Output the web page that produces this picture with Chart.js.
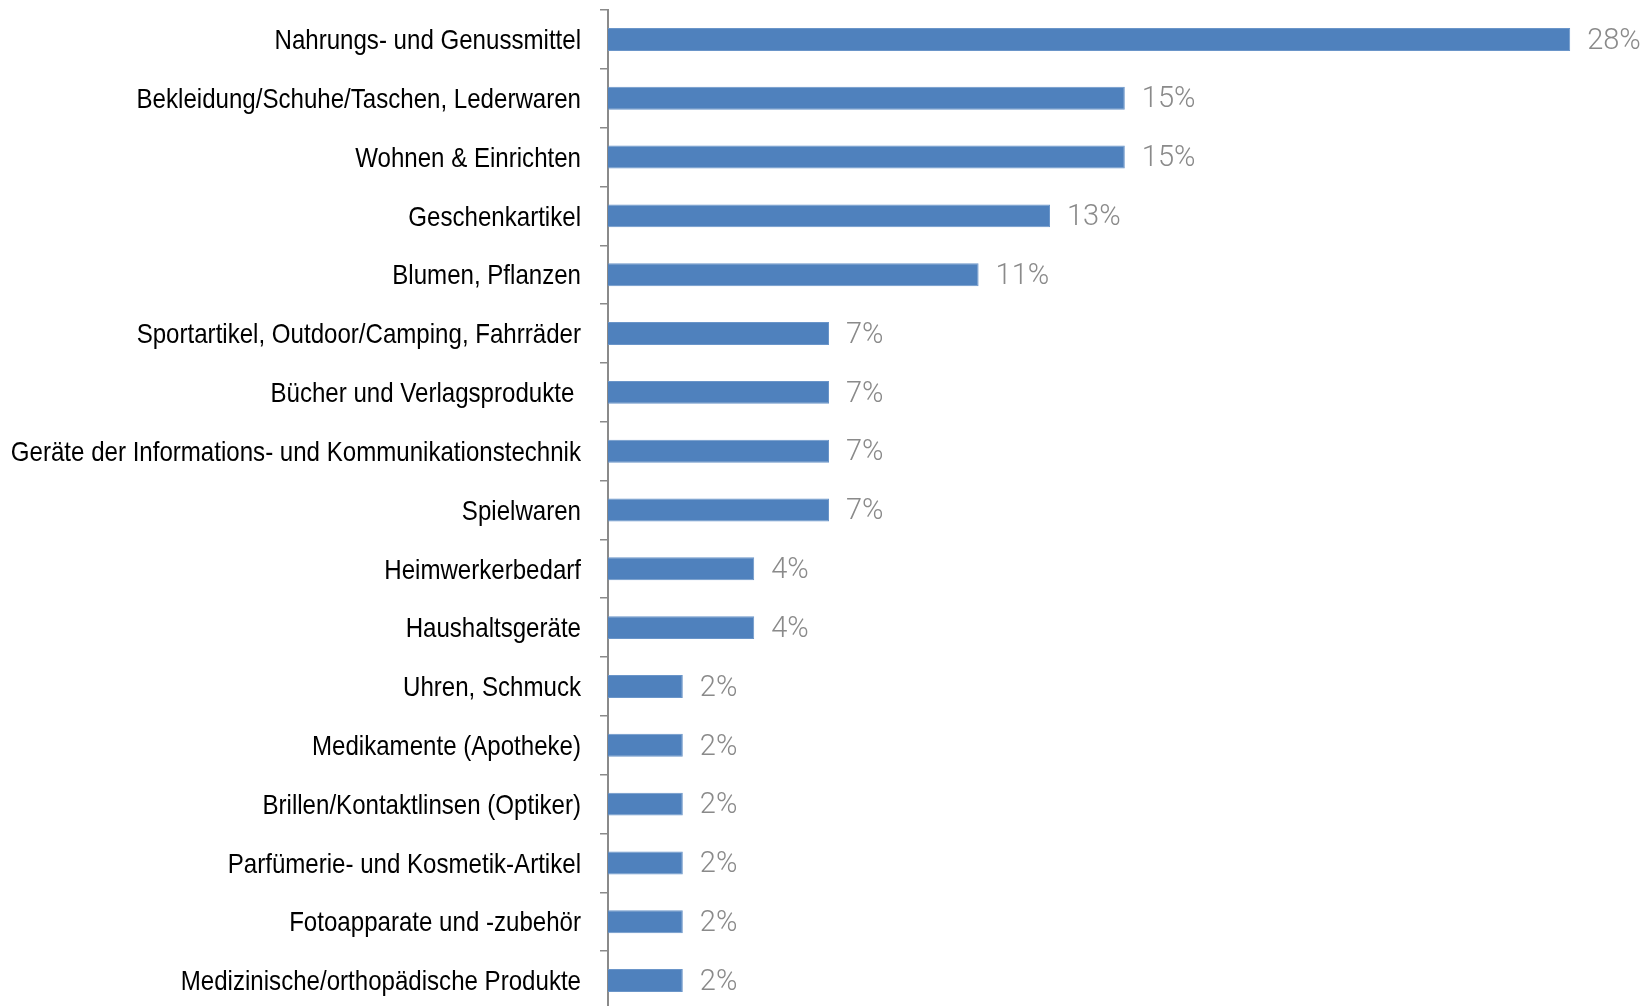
<!DOCTYPE html>
<html>
<head>
<meta charset="utf-8">
<script src="https://cdn.jsdelivr.net/npm/chart.js@4"></script>
<style>
  html, body { margin: 0; padding: 0; background: #fff; overflow: hidden; }
</style>
</head>
<body>
<canvas id="myChart" width="1645" height="1010"></canvas>
<script>
const categories = [
    "Nahrungs- und Genussmittel",
    "Bekleidung/Schuhe/Taschen, Lederwaren",
    "Wohnen & Einrichten",
    "Geschenkartikel",
    "Blumen, Pflanzen",
    "Sportartikel, Outdoor/Camping, Fahrräder",
    "Bücher und Verlagsprodukte ",
    "Geräte der Informations- und Kommunikationstechnik",
    "Spielwaren",
    "Heimwerkerbedarf",
    "Haushaltsgeräte",
    "Uhren, Schmuck",
    "Medikamente (Apotheke)",
    "Brillen/Kontaktlinsen (Optiker)",
    "Parfümerie- und Kosmetik-Artikel",
    "Fotoapparate und -zubehör",
    "Medizinische/orthopädische Produkte"
]
const shares = [28.3, 15.2, 15.2, 13.0, 10.9, 6.5, 6.5, 6.5, 6.5, 4.3, 4.3, 2.2, 2.2, 2.2, 2.2, 2.2, 2.2]
const shareLabels = ["28%", "15%", "15%", "13%", "11%", "7%", "7%", "7%", "7%", "4%", "4%", "2%", "2%", "2%", "2%", "2%", "2%"]

// value labels right of each bar + narrow category labels
const labelPlugin = {
    id: 'labelPlugin',
    afterDatasetsDraw(chart) {
        const ctx = chart.ctx
        const meta = chart.getDatasetMeta(0)
        const yScale = chart.scales.y
        ctx.save()
        ctx.font = '300 29px Roboto'
        ctx.fillStyle = '#8a8a8a'
        ctx.textBaseline = 'middle'
        ctx.textAlign = 'left'
        meta.data.forEach(function (bar, i) {
            ctx.fillText(shareLabels[i], bar.x + 17, bar.y + 2)
        })
        ctx.restore()

        // category names, squeezed like Arial Narrow
        ctx.save()
        ctx.font = '28px "Liberation Sans", Arial'
        ctx.fillStyle = '#000'
        ctx.textBaseline = 'middle'
        ctx.textAlign = 'right'
        categories.forEach(function (label, i) {
            const y = yScale.getPixelForTick(i)
            ctx.save()
            ctx.translate(yScale.right - 27, y + 2)
            ctx.scale(0.86, 1)
            ctx.fillText(label, 0, 0)
            ctx.restore()
        })
        ctx.restore()
    }
}

var ctx = document.getElementById("myChart").getContext('2d');
var myBarChart = new Chart(ctx, {
    type: 'bar',
    data: {
        labels: categories,
        datasets: [{
            data: shares,
            backgroundColor: '#4f81bd',
            borderColor: '#6a95c9',
            borderWidth: 1,
            barPercentage: 0.39,
            categoryPercentage: 1
        }]
    },
    options: {
        indexAxis: 'y',
        responsive: false,
        animation: false,
        layout: { padding: { top: 10, right: 0, bottom: 0, left: 0 } },
        plugins: {
            legend: { display: false },
            tooltip: { enabled: false }
        },
        scales: {
            x: {
                display: false,
                min: 0,
                max: 30.5
            },
            y: {
                afterFit(scale) { scale.width = 608 },
                border: { display: true, color: '#8a8a8a', width: 2 },
                grid: {
                    drawOnChartArea: false,
                    drawTicks: true,
                    tickLength: 8,
                    color: '#8a8a8a',
                    lineWidth: 1.5,
                    offset: true
                },
                ticks: { display: false }
            }
        }
    },
    plugins: [labelPlugin]
});
</script>
</body>
</html>
